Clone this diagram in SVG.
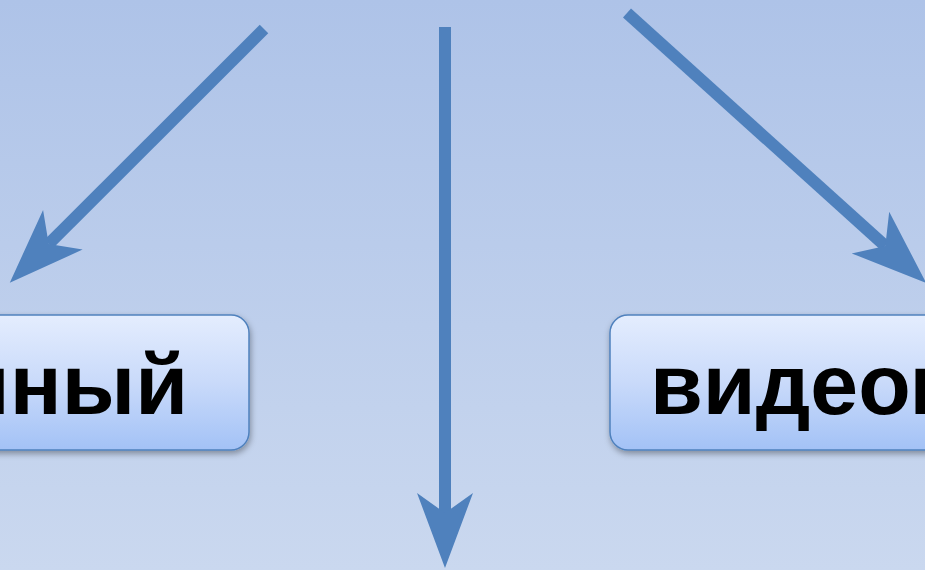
<svg xmlns="http://www.w3.org/2000/svg" width="925" height="570" viewBox="0 0 925 570">
  <defs>
    <linearGradient id="bg" x1="0" y1="0" x2="0" y2="1">
      <stop offset="0" stop-color="#AEC3E8"/>
      <stop offset="1" stop-color="#CAD8EF"/>
    </linearGradient>
    <linearGradient id="boxfill" x1="0" y1="0" x2="0" y2="1">
      <stop offset="0" stop-color="#E4EDFE"/>
      <stop offset="0.5" stop-color="#C9DAFA"/>
      <stop offset="1" stop-color="#A3C2F6"/>
    </linearGradient>
    <filter id="shadow" x="-10%" y="-10%" width="130%" height="140%">
      <feDropShadow dx="1" dy="3" stdDeviation="3" flood-color="#000" flood-opacity="0.35"/>
    </filter>
    <marker id="arrow" markerUnits="userSpaceOnUse" markerWidth="80" markerHeight="60" refX="0" refY="0" orient="auto" overflow="visible">
      <path d="M55,0 L-20,-28 L0,0 L-20,28 Z" fill="#4F81BD"/>
    </marker>
    <style>
      .box { fill: url(#boxfill); stroke: #4F81BD; stroke-width: 1.5; filter: url(#shadow); }
      .label { font-family: "Liberation Sans", Arial, sans-serif; font-weight: bold; font-size: 86px; fill: #000; }
      .conn { stroke: #4F81BD; stroke-width: 12; fill: none; marker-end: url(#arrow); }
    </style>
  </defs>
  <rect x="0" y="0" width="925" height="570" fill="url(#bg)"/>
  <g id="connectors">
    <line class="conn" x1="264" y1="29" x2="48.7" y2="243.9"/>
    <line class="conn" x1="445" y1="27" x2="445" y2="513"/>
    <line class="conn" x1="627" y1="13" x2="885.3" y2="246"/>
  </g>
  <g id="node-left">
    <rect class="box" x="-40" y="315" width="289" height="135" rx="18" ry="18"/>
    <text class="label" x="188" y="414" text-anchor="end">нный</text>
  </g>
  <g id="node-right">
    <rect class="box" x="610" y="315" width="360" height="135" rx="18" ry="18"/>
    <text class="label" x="650" y="414">видеом</text>
  </g>
</svg>
